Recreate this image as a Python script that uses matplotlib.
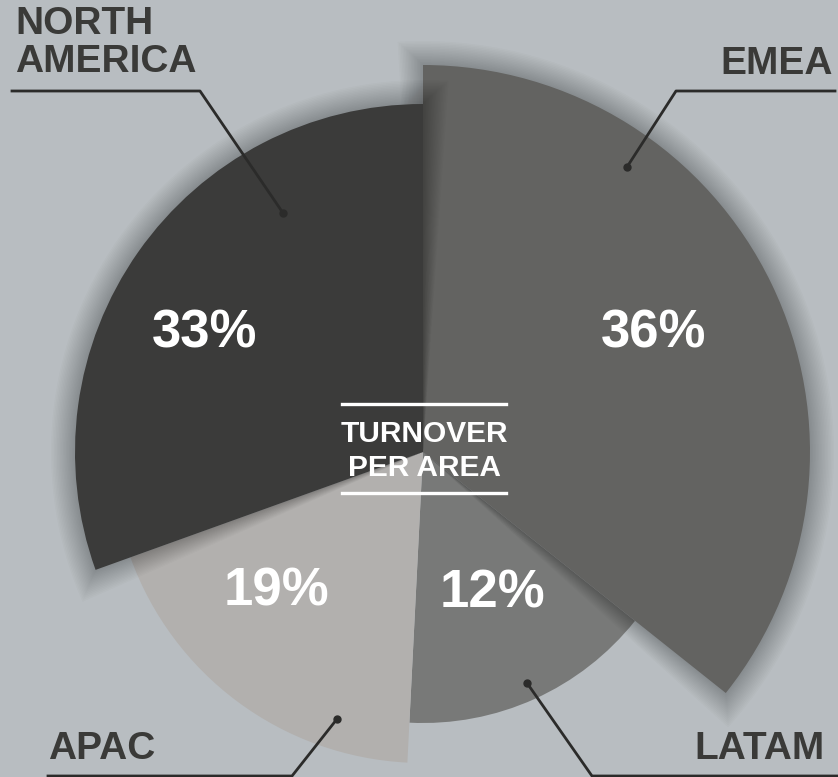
import numpy as np
import matplotlib.pyplot as plt
from matplotlib.lines import Line2D

W, H = 838, 777

# data (clockwise from 12 o'clock)
regions = ["EMEA", "LATAM", "APAC", "NORTH\nAMERICA"]
share_labels = ["36%", "12%", "19%", "33%"]
angle_share = [35.7, 15.1, 18.7, 30.5]
radius_value = [387, 271, 311, 348]

colors = ["#636361", "#787978", "#b2b0ae", "#3b3b3a"]
has_shadow = [True, False, False, True]
BG = "#b8bdc1"
DARK = "#3a3a38"
FONT = "Liberation Sans"

RMAX = 430
CX, CY = 423, 452


def fig_xy(x, y):
    return x / W, 1 - y / H


fig = plt.figure(figsize=(W / 100, H / 100), dpi=100, facecolor=BG)
ax = fig.add_axes(
    [(CX - RMAX) / W, (H - CY - RMAX) / H, 2 * RMAX / W, 2 * RMAX / H],
    projection="polar",
)
ax.set_theta_zero_location("N")
ax.set_theta_direction(-1)
ax.set_ylim(0, RMAX)
ax.set_axis_off()

frac = np.array(angle_share) / sum(angle_share)
widths = 2 * np.pi * frac
starts = np.concatenate([[0], np.cumsum(widths)[:-1]])

# small wedges first, then the big ones with their soft shadows
order = [1, 2, 0, 3]
for i in order:
    r = radius_value[i]
    if has_shadow[i]:
        for k in range(16, 0, -1):
            grow = k * 1.5
            dth = grow / r
            ax.bar(starts[i] - dth, r + grow, width=widths[i] + 2 * dth,
                   align="edge", color="black", alpha=0.016, linewidth=0)
    ax.bar(starts[i], r, width=widths[i], align="edge",
           color=colors[i], linewidth=0)

# percentage labels
pct_pos = [(654, 334), (492, 593), (276, 592), (205, 334)]
for lab, (x, y) in zip(share_labels, pct_pos):
    fig.text(*fig_xy(x, y), lab, color="white", fontsize=38,
             fontweight="bold", family=FONT, ha="center", va="center")

# centre title
fig.text(*fig_xy(424, 434), "TURNOVER", color="white", fontsize=21.5,
         fontweight="bold", family=FONT, ha="center", va="center")
fig.text(*fig_xy(424, 468), "PER AREA", color="white", fontsize=21.5,
         fontweight="bold", family=FONT, ha="center", va="center")
for y in (404, 493):
    (x0, y0), (x1, y1) = fig_xy(342, y), fig_xy(506, y)
    fig.add_artist(Line2D([x0, x1], [y0, y1], color="white", lw=2.4,
                          transform=fig.transFigure))

# region labels with leader lines
name_pos = [(833, 64, "right"), (825, 749, "right"), (48, 749, "left"),
            (15, 43, "left")]
leaders = [
    [(835, 91), (676, 91), (627, 167)],
    [(838, 776), (592, 776), (527, 683)],
    [(48, 776), (292, 776), (337, 719)],
    [(12, 91), (200, 91), (283, 213)],
]
for name, (x, y, ha), pts in zip(regions, name_pos, leaders):
    fig.text(*fig_xy(x, y), name, color=DARK, fontsize=28,
             fontweight="bold", family=FONT, ha=ha, va="center",
             linespacing=1.05)
    xs, ys = zip(*[fig_xy(px, py) for px, py in pts])
    fig.add_artist(Line2D(xs, ys, color="#2b2b2a", lw=2,
                          transform=fig.transFigure))
    fig.add_artist(Line2D([xs[-1]], [ys[-1]], color="#2b2b2a", marker="o",
                          markersize=5, lw=0, transform=fig.transFigure))

fig.savefig("out.png", dpi=100, facecolor=BG)
